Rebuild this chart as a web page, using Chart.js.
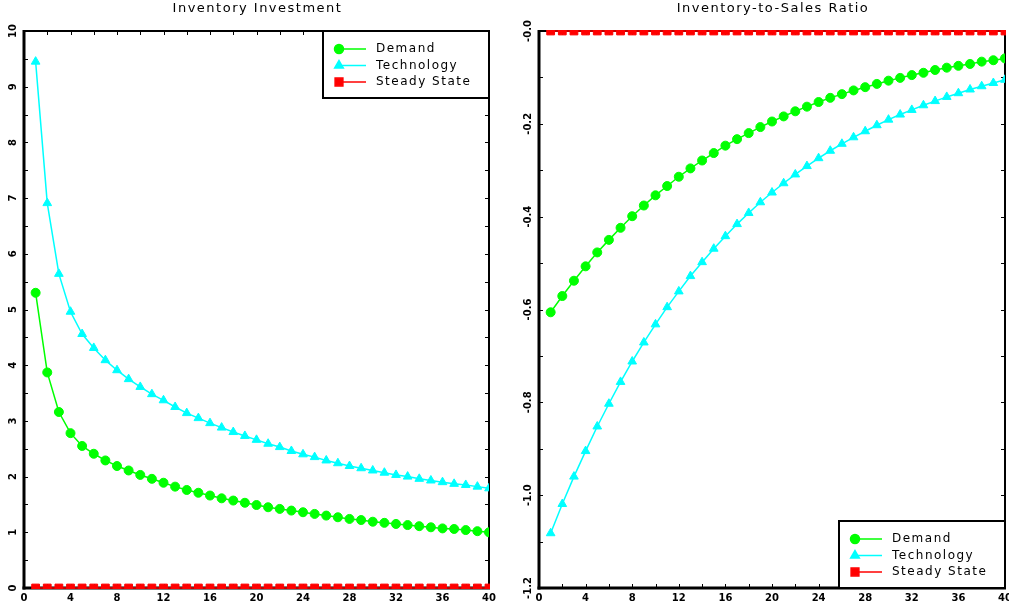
<!DOCTYPE html>
<html><head><meta charset="utf-8">
<script src="https://cdn.jsdelivr.net/npm/chart.js@4.4.0/dist/chart.umd.min.js"></script>
<style>
html,body{margin:0;padding:0;background:#fff;overflow:hidden;width:1009px;height:609px;position:relative;}
#c1{position:absolute;left:0;top:0;}
#c2{position:absolute;left:505px;top:0;}
</style></head><body>
<canvas id="c1" width="500" height="609"></canvas>
<canvas id="c2" width="520" height="609"></canvas>
<script>
// ---------- data ----------
const periods = [1,2,3,4,5,6,7,8,9,10,11,12,13,14,15,16,17,18,19,20,21,22,23,24,25,26,27,28,29,30,31,32,33,34,35,36,37,38,39,40];
const seriesNames = ['Demand','Technology','Steady State'];
const xTickValues = [0,4,8,12,16,20,24,28,32,36,40];
const xTickLabels = ['0','4','8','12','16','20','24','28','32','36','40'];

const invTitle = 'Inventory Investment';
const invDemand = [5.30,3.87,3.16,2.78,2.55,2.41,2.29,2.19,2.11,2.03,1.96,1.89,1.82,1.76,1.71,1.66,1.61,1.57,1.53,1.49,1.45,1.42,1.39,1.36,1.33,1.30,1.27,1.24,1.22,1.19,1.17,1.15,1.13,1.11,1.09,1.07,1.06,1.04,1.02,1.00];
const invTechnology = [9.45,6.91,5.64,4.96,4.56,4.31,4.09,3.91,3.75,3.61,3.48,3.37,3.25,3.14,3.05,2.96,2.88,2.80,2.73,2.66,2.59,2.53,2.46,2.40,2.35,2.29,2.24,2.19,2.15,2.11,2.07,2.03,2.00,1.96,1.93,1.90,1.87,1.85,1.82,1.79];
const invSteady = [0,0,0,0,0,0,0,0,0,0,0,0,0,0,0,0,0,0,0,0,0,0,0,0,0,0,0,0,0,0,0,0,0,0,0,0,0,0,0,0];
const invYTickValues = [0,1,2,3,4,5,6,7,8,9,10];
const invYTickLabels = ['0','1','2','3','4','5','6','7','8','9','10'];

const ratioTitle = 'Inventory-to-Sales Ratio';
const ratioDemand = [-0.606,-0.571,-0.538,-0.507,-0.477,-0.450,-0.424,-0.399,-0.376,-0.354,-0.334,-0.314,-0.296,-0.279,-0.263,-0.247,-0.233,-0.220,-0.207,-0.195,-0.184,-0.173,-0.163,-0.153,-0.144,-0.136,-0.128,-0.121,-0.114,-0.107,-0.101,-0.095,-0.090,-0.084,-0.079,-0.075,-0.071,-0.066,-0.063,-0.059];
const ratioTechnology = [-1.082,-1.019,-0.960,-0.905,-0.852,-0.803,-0.756,-0.712,-0.671,-0.632,-0.595,-0.561,-0.528,-0.498,-0.469,-0.442,-0.416,-0.392,-0.369,-0.348,-0.328,-0.309,-0.291,-0.274,-0.258,-0.243,-0.229,-0.216,-0.203,-0.191,-0.180,-0.170,-0.160,-0.151,-0.142,-0.134,-0.126,-0.119,-0.112,-0.105];
const ratioSteady = [0,0,0,0,0,0,0,0,0,0,0,0,0,0,0,0,0,0,0,0,0,0,0,0,0,0,0,0,0,0,0,0,0,0,0,0,0,0,0,0];
const ratioYTickValues = [0,-0.2,-0.4,-0.6,-0.8,-1.0,-1.2];
const ratioYTickLabels = ['-0.0','-0.2','-0.4','-0.6','-0.8','-1.0','-1.2'];

// ---------- styles ----------
const GREEN = '#00ff00', CYAN = '#00ffff', RED = '#ff0000';
const FONT = '"DejaVu Sans", sans-serif';

function pts(vals){ return periods.map((p,i)=>({x:p, y:vals[i]})); }

function makeDatasets(d, t, s){
  return [
    {label:seriesNames[0], data:pts(d), borderColor:GREEN, backgroundColor:GREEN, borderWidth:1.5,
     pointStyle:'circle', pointRadius:4.5, pointBorderWidth:1, pointBackgroundColor:GREEN, pointBorderColor:GREEN},
    {label:seriesNames[1], data:pts(t), borderColor:CYAN, backgroundColor:CYAN, borderWidth:1.5,
     pointStyle:'triangle', pointRadius:5, pointBorderWidth:1, pointBackgroundColor:CYAN, pointBorderColor:CYAN},
    {label:seriesNames[2], data:pts(s), borderColor:RED, backgroundColor:RED, borderWidth:1.5,
     pointStyle:'rect', pointRadius:5.5, pointBorderWidth:1, pointBackgroundColor:RED, pointBorderColor:RED, clip:1}
  ];
}

function line(ctx,x1,y1,x2,y2){ ctx.beginPath(); ctx.moveTo(x1,y1); ctx.lineTo(x2,y2); ctx.stroke(); }

const framePlugin = {
  id:'frame',
  beforeDatasetsDraw(chart, args, opts){
    const ctx = chart.ctx, a = chart.chartArea, x = chart.scales.x, y = chart.scales.y;
    ctx.save();
    ctx.strokeStyle = '#000';
    ctx.lineWidth = 1;
    x.ticks.forEach(t=>{
      const px = Math.round(x.getPixelForValue(t.value)) + 0.5;
      line(ctx, px, a.bottom, px, a.bottom-4);
      line(ctx, px, a.top, px, a.top+4);
    });
    y.ticks.forEach(t=>{
      const py = Math.round(y.getPixelForValue(t.value)) + 0.5;
      line(ctx, a.left, py, a.left+4, py);
      line(ctx, a.right, py, a.right-4, py);
    });
    ctx.lineWidth = 2;
    ctx.strokeRect(a.left, a.top, a.right-a.left, a.bottom-a.top);
    ctx.lineWidth = 3;
    line(ctx, a.left, a.top-1, a.left, a.bottom+1.5);
    line(ctx, a.left-1.5, a.bottom, a.right+1, a.bottom);
    // rotated y tick labels
    ctx.fillStyle = '#000';
    ctx.font = 'bold 10px ' + FONT;
    ctx.textAlign = 'center';
    ctx.textBaseline = 'middle';
    opts.yValues.forEach((v,i)=>{
      const py = y.getPixelForValue(v);
      ctx.save();
      ctx.translate(opts.yLabelX, py);
      ctx.rotate(-Math.PI/2);
      ctx.fillText(opts.yLabels[i], 0, 0);
      ctx.restore();
    });
    ctx.restore();
  },
  afterDraw(chart, args, opts){
    const ctx = chart.ctx, a = chart.chartArea;
    ctx.save();
    // title
    ctx.fillStyle = '#000';
    ctx.font = '13px ' + FONT;
    ctx.letterSpacing = '1.5px';
    ctx.textAlign = 'center';
    ctx.textBaseline = 'middle';
    ctx.fillText(opts.title, (a.left+a.right)/2 + 1, 9);
    // legend box
    const w = 166, h = 67;
    const bx = a.right - w;
    const by = opts.legendPos === 'top' ? a.top : a.bottom - h;
    ctx.fillStyle = '#fff';
    ctx.fillRect(bx, by, w, h);
    ctx.strokeStyle = '#000';
    ctx.lineWidth = 2;
    ctx.strokeRect(bx, by, w, h);
    ctx.font = '12px ' + FONT;
    ctx.textAlign = 'left';
    chart.data.datasets.forEach((ds,i)=>{
      const ry = by + 18 + i*16.5;
      const mx = bx + 16;
      ctx.strokeStyle = ds.borderColor;
      ctx.lineWidth = 1.5;
      line(ctx, mx, ry, mx + 27, ry);
      ctx.fillStyle = ds.backgroundColor;
      ctx.strokeStyle = ds.borderColor;
      Chart.helpers.drawPoint(ctx, {pointStyle: ds.pointStyle, radius: ds.pointRadius, rotation:0, borderWidth:1}, mx, ry);
      ctx.fillStyle = '#000';
      ctx.fillText(ds.label, bx + 53, ry);
    });
    ctx.restore();
  }
};

function makeChart(id, datasets, yMin, yMax, yStep, yWidth, padRight, opts){
  return new Chart(document.getElementById(id), {
    type:'line',
    data:{datasets},
    options:{
      responsive:false, animation:false, events:[],
      layout:{padding:{top:31, left:0, right:padRight, bottom:0}},
      plugins:{legend:{display:false}, tooltip:{enabled:false}, title:{display:false}, frame:opts},
      scales:{
        x:{type:'linear', min:0, max:40,
           grid:{display:false, drawTicks:false}, border:{display:false},
           ticks:{stepSize:2, autoSkip:false, maxRotation:0, minRotation:0, padding:4, color:'#000',
                  font:{family:FONT, size:10, weight:'bold'},
                  callback:(v)=>{ const k = xTickValues.indexOf(v); return k>=0 ? xTickLabels[k] : ''; }},
           afterFit:(s)=>{ s.height = 21; }},
        y:{type:'linear', min:yMin, max:yMax,
           grid:{display:false, drawTicks:false}, border:{display:false},
           ticks:{display:false, stepSize:yStep},
           afterFit:(s)=>{ s.width = yWidth; }}
      }
    },
    plugins:[framePlugin]
  });
}

makeChart('c1', makeDatasets(invDemand, invTechnology, invSteady), 0, 10, 0.5, 24, 11,
  {title:invTitle, legendPos:'top', yValues:invYTickValues, yLabels:invYTickLabels, yLabelX:13});
makeChart('c2', makeDatasets(ratioDemand, ratioTechnology, ratioSteady), -1.2, 0, 0.1, 34, 20,
  {title:ratioTitle, legendPos:'bottom', yValues:ratioYTickValues, yLabels:ratioYTickLabels, yLabelX:23});
</script>
</body></html>
